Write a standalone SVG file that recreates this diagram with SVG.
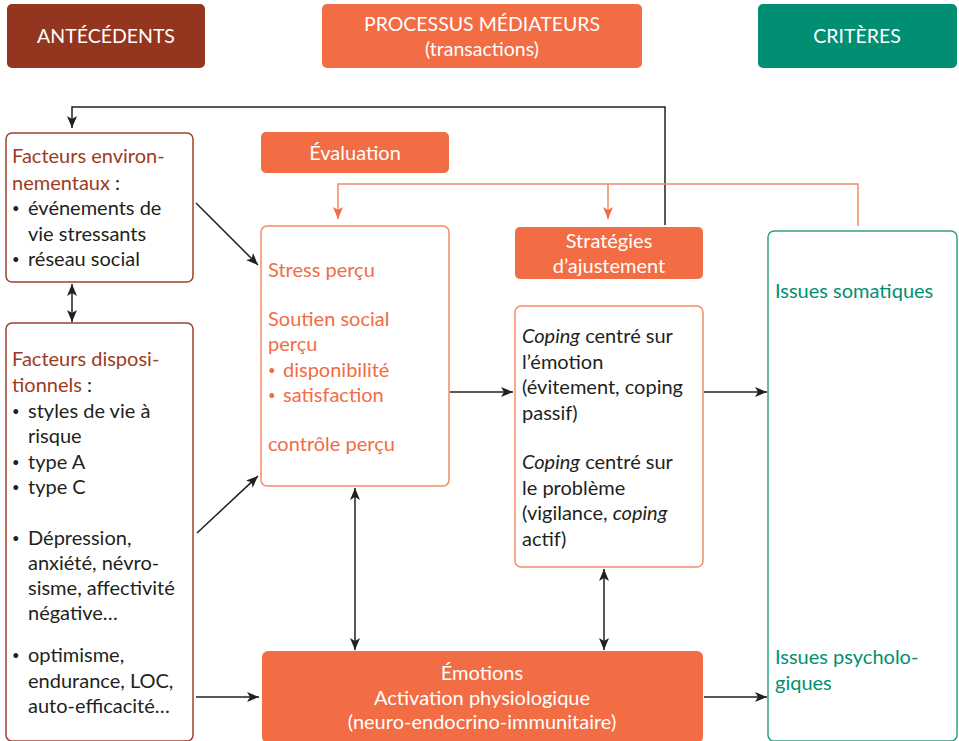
<svg xmlns="http://www.w3.org/2000/svg" width="959" height="741" viewBox="0 0 959 741">
<defs>
<style>
text{font-family:Lato,"Open Sans","Liberation Sans",sans-serif;font-size:20px}
.hdr{fill:#fff;text-anchor:middle;font-size:19.5px}
.brown{fill:#9E3A22}
.blk{fill:#231F20}
.org{fill:#F26C44}
.grn{fill:#00906F}
.wc{fill:#fff;text-anchor:middle}
.b{font-size:13px}
.k{stroke:#231F20;stroke-width:1.5;fill:none}
.o{stroke:#F28A68;stroke-width:1.5;fill:none}
</style>
<marker id="ah" viewBox="0 0 12 10" refX="12" refY="5" markerWidth="12" markerHeight="10" markerUnits="userSpaceOnUse" orient="auto-start-reverse"><path d="M0,0 L12,5 L0,10 L3,5 Z" fill="#231F20"/></marker>
<marker id="ao" viewBox="0 0 12 10" refX="12" refY="5" markerWidth="12" markerHeight="10" markerUnits="userSpaceOnUse" orient="auto"><path d="M0,0 L12,5 L0,10 L3,5 Z" fill="#F26C44"/></marker>
</defs>
<rect width="959" height="741" fill="#fff"/>

<g id="hdr-antecedents"><rect x="7" y="4" width="198" height="64" rx="5" fill="#93351F"/><text class="hdr" x="106" y="43">ANTÉCÉDENTS</text></g>
<g id="hdr-processus"><rect x="322" y="4" width="320" height="64" rx="5" fill="#F26C44"/><text class="hdr" x="482" y="31">PROCESSUS MÉDIATEURS</text><text class="hdr" x="482" y="56">(transactions)</text></g>
<g id="hdr-criteres"><rect x="758" y="4" width="199" height="64" rx="5" fill="#008F72"/><text class="hdr" x="857" y="43">CRITÈRES</text></g>

<g id="connectors">
<polyline class="k" points="665,225 665,107 72,107 72,128" marker-end="url(#ah)"/>
<line class="k" x1="72" y1="284" x2="72" y2="322" marker-start="url(#ah)" marker-end="url(#ah)"/>
<line class="k" x1="196" y1="203" x2="258" y2="265" marker-end="url(#ah)"/>
<line class="k" x1="197" y1="533" x2="258" y2="476" marker-end="url(#ah)"/>
<line class="k" x1="196" y1="697" x2="259" y2="697" marker-end="url(#ah)"/>
<line class="k" x1="450" y1="392" x2="513" y2="392" marker-end="url(#ah)"/>
<line class="k" x1="704" y1="392" x2="767" y2="392" marker-end="url(#ah)"/>
<line class="k" x1="704" y1="697" x2="767" y2="697" marker-end="url(#ah)"/>
<line class="k" x1="355" y1="488" x2="355" y2="650" marker-start="url(#ah)" marker-end="url(#ah)"/>
<line class="k" x1="604" y1="569" x2="604" y2="650" marker-start="url(#ah)" marker-end="url(#ah)"/>
<line class="k" x1="858" y1="302" x2="858" y2="644" marker-start="url(#ah)" marker-end="url(#ah)"/>
<polyline class="o" points="858,226 858,184 338,184 338,219" marker-end="url(#ao)"/>
<line class="o" x1="608" y1="184" x2="608" y2="219" marker-end="url(#ao)"/>
</g>

<g id="env">
<rect x="6" y="133" width="187" height="149" rx="6" fill="#fff" stroke="#A0412A" stroke-width="1.5"/>
<text class="brown" x="12" y="163">Facteurs environ-</text>
<text x="12" y="190"><tspan class="brown">nementaux</tspan><tspan class="blk"> :</tspan></text>
<text class="blk b" x="12" y="213">•</text><text class="blk" x="28" y="215">événements de</text>
<text class="blk" x="28" y="241">vie stressants</text>
<text class="blk b" x="12" y="264">•</text><text class="blk" x="28" y="266">réseau social</text>
</g>

<g id="disp">
<rect x="6" y="323" width="187" height="418" rx="6" fill="#fff" stroke="#A0412A" stroke-width="1.5"/>
<text class="brown" x="12" y="366">Facteurs disposi-</text>
<text x="12" y="392"><tspan class="brown">tionnels</tspan><tspan class="blk"> :</tspan></text>
<text class="blk b" x="12" y="416">•</text><text class="blk" x="28" y="418">styles de vie à</text>
<text class="blk" x="28" y="443">risque</text>
<text class="blk b" x="12" y="467">•</text><text class="blk" x="28" y="469">type A</text>
<text class="blk b" x="12" y="492">•</text><text class="blk" x="28" y="494">type C</text>
<text class="blk b" x="12" y="543">•</text><text class="blk" x="28" y="545">Dépression,</text>
<text class="blk" x="28" y="570">anxiété, névro-</text>
<text class="blk" x="28" y="595">sisme, affectivité</text>
<text class="blk" x="28" y="620">négative…</text>
<text class="blk b" x="12" y="660">•</text><text class="blk" x="28" y="662">optimisme,</text>
<text class="blk" x="28" y="688">endurance, LOC,</text>
<text class="blk" x="28" y="713">auto-efficacité…</text>
</g>

<g id="evaluation"><rect x="261" y="132" width="188" height="41" rx="5" fill="#F26C44"/><text class="wc" x="355" y="160">Évaluation</text></g>

<g id="stress">
<rect x="261" y="226" width="188" height="260" rx="6" fill="#fff" stroke="#F58A66" stroke-width="1.5"/>
<text class="org" x="268" y="277">Stress perçu</text>
<text class="org" x="268" y="326">Soutien social</text>
<text class="org" x="268" y="351">perçu</text>
<text class="org b" x="268" y="375">•</text><text class="org" x="283" y="377">disponibilité</text>
<text class="org b" x="268" y="400">•</text><text class="org" x="283" y="402">satisfaction</text>
<text class="org" x="268" y="451">contrôle perçu</text>
</g>

<g id="strategies"><rect x="515" y="227" width="188" height="52" rx="5" fill="#F26C44"/><text class="wc" x="609" y="248">Stratégies</text><text class="wc" x="609" y="273">d’ajustement</text></g>

<g id="coping">
<rect x="515" y="306" width="188" height="261" rx="6" fill="#fff" stroke="#F58A66" stroke-width="1.5"/>
<text class="blk" x="522" y="343"><tspan font-style="italic">Coping</tspan> centré sur</text>
<text class="blk" x="522" y="369">l’émotion</text>
<text class="blk" x="522" y="394">(évitement, coping</text>
<text class="blk" x="522" y="420">passif)</text>
<text class="blk" x="522" y="469"><tspan font-style="italic">Coping</tspan> centré sur</text>
<text class="blk" x="522" y="495">le problème</text>
<text class="blk" x="522" y="520">(vigilance, <tspan font-style="italic">coping</tspan></text>
<text class="blk" x="522" y="546">actif)</text>
</g>

<g id="emotions"><rect x="262" y="651" width="441" height="92" rx="6" fill="#F26C44"/>
<text class="wc" x="482" y="680">Émotions</text>
<text class="wc" x="482" y="705">Activation physiologique</text>
<text class="wc" x="482" y="729">(neuro-endocrino-immunitaire)</text>
</g>

<g id="issues">
<rect x="768" y="231" width="189" height="510" rx="6" fill="#fff" stroke="#2FA183" stroke-width="1.5"/>
<text class="grn" x="775" y="298">Issues somatiques</text>
<text class="grn" x="775" y="664">Issues psycholo-</text>
<text class="grn" x="775" y="690">giques</text>
</g>
</svg>
